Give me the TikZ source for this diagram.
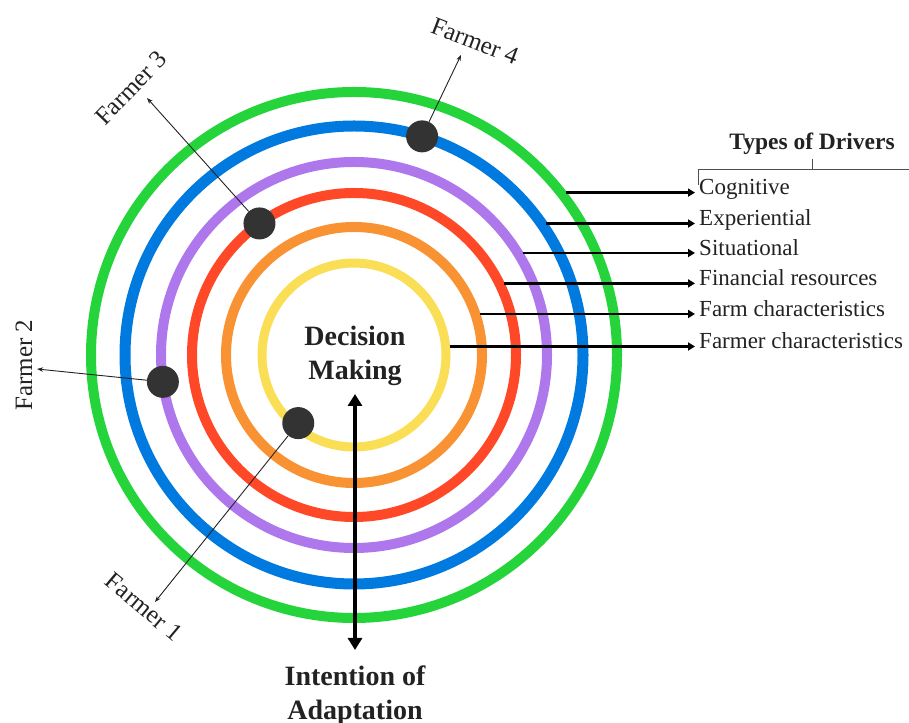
\documentclass[tikz,border=0pt]{standalone}
\usepackage{fontspec}
\setmainfont{LiberationSerif}[Extension=.ttf, UprightFont=*-Regular, BoldFont=*-Bold, ItalicFont=*-Italic, BoldItalicFont=*-BoldItalic]
\usetikzlibrary{arrows.meta,calc}
\definecolor{ringgreen}{RGB}{36,212,58}
\definecolor{ringblue}{RGB}{0,122,222}
\definecolor{ringpurple}{RGB}{174,120,236}
\definecolor{ringred}{RGB}{255,72,40}
\definecolor{ringorange}{RGB}{248,146,50}
\definecolor{ringyellow}{RGB}{250,222,86}
\definecolor{dotgray}{RGB}{51,51,51}
\definecolor{txt}{RGB}{34,34,34}
\begin{document}
\begin{tikzpicture}[x=1pt,y=1pt,
  ring/.style={line width=10pt},
  fdot/.style={circle,fill=dotgray,minimum size=32pt,inner sep=0pt},
  farrow/.style={draw=txt, line width=0.9pt, -{Stealth[length=6pt,width=4.5pt]}},
  flabel/.style={font=\fontsize{25}{29}\selectfont, text=txt, inner sep=0pt},
  drv/.style={line width=2.4pt, -{Triangle[length=7pt,width=8pt]}},
  dlabel/.style={anchor=west, font=\fontsize{23}{26}\selectfont, text=txt, inner xsep=4pt, inner ysep=0pt, text height=0.68em, text depth=0.22em},
  big/.style={font=\fontsize{28}{34}\selectfont\bfseries, text=txt, align=center},
  bracket/.style={draw=txt!80, line width=1pt}]
\useasboundingbox (0,0) rectangle (909,722);
\coordinate (C) at (354,367);
% rings
\draw[ring,ringgreen]  (C) circle[radius=263];
\draw[ring,ringblue,line width=11pt]   (C) circle[radius=229];
\draw[ring,ringpurple] (C) circle[radius=193];
\draw[ring,ringred]    (C) circle[radius=162];
\draw[ring,ringorange] (C) circle[radius=128];
\draw[ring,ringyellow,line width=9pt] (C) circle[radius=92];
% farmer dots
\node[fdot] (f4) at ($(C)+(72.7:229)$) {};
\node[fdot] (f3) at ($(C)+(125.7:162)$) {};
\node[fdot] (f2) at ($(C)+(188:193)$) {};
\node[fdot] (f1) at ($(C)+(230.7:88)$) {};
% farmer arrows
\coordinate (t4) at (461,667);
\coordinate (t3) at (147,624);
\coordinate (t2) at (37,353);
\coordinate (t1) at (155,120);
\draw[farrow] (f4) -- (t4);
\draw[farrow] (f3) -- (t3);
\draw[farrow] (f2) -- (t2);
\draw[farrow] (f1) -- (t1);
% farmer labels
\node[flabel, rotate=-21] (l4) at (475,681) {Farmer 4};
\node[flabel, rotate=46] (l3) at (131,634) {Farmer 3};
\node[flabel, rotate=90] (l2) at (24,357) {Farmer 2};
\node[flabel, rotate=-40] (l1) at (144,115) {Farmer 1};
% centre labels
\node[big] (dm) at (355,366) {Decision\\Making};
\node[big] (ia) at (355,26) {Intention of\\Adaptation};
\coordinate (a1) at (355,328);
\coordinate (a2) at (355,72);
\draw[line width=3.5pt, {Triangle[length=12pt,width=14pt]}-{Triangle[length=12pt,width=14pt]}] (a1) -- (a2);
% drivers
\node[font=\fontsize{23.5}{27}\selectfont\bfseries, text=txt, inner sep=0pt] (types) at (812,578) {Types of Drivers};
\coordinate (bl) at (698,537);
\coordinate (bc) at (812,552);
\coordinate (br) at (912,552);
\draw[bracket] (bl) |- (br);
\draw[bracket] (812,563) -- (bc);
\node[dlabel] (d1) at (695,529.4) {Cognitive};
\node[dlabel] (d2) at (695,498.5) {Experiential};
\node[dlabel] (d3) at (695,469) {Situational};
\node[dlabel] (d4) at (695,438.6) {Financial resources};
\node[dlabel] (d5) at (695,408) {Farm characteristics};
\node[dlabel] (d6) at (695,375.5) {Farmer characteristics};
\coordinate (s1) at (566,529.4);
\coordinate (s2) at (546,498.5);
\coordinate (s3) at (522.5,469);
\coordinate (s4) at (504,438.6);
\coordinate (s5) at (479.5,408);
\coordinate (s6) at (449.6,375.5);
\draw[drv] (s1) -- (d1.west);
\draw[drv] (s2) -- (d2.west);
\draw[drv] (s3) -- (d3.west);
\draw[drv] (s4) -- (d4.west);
\draw[drv] (s5) -- (d5.west);
\draw[drv] (s6) -- (d6.west);
\end{tikzpicture}
\end{document}
